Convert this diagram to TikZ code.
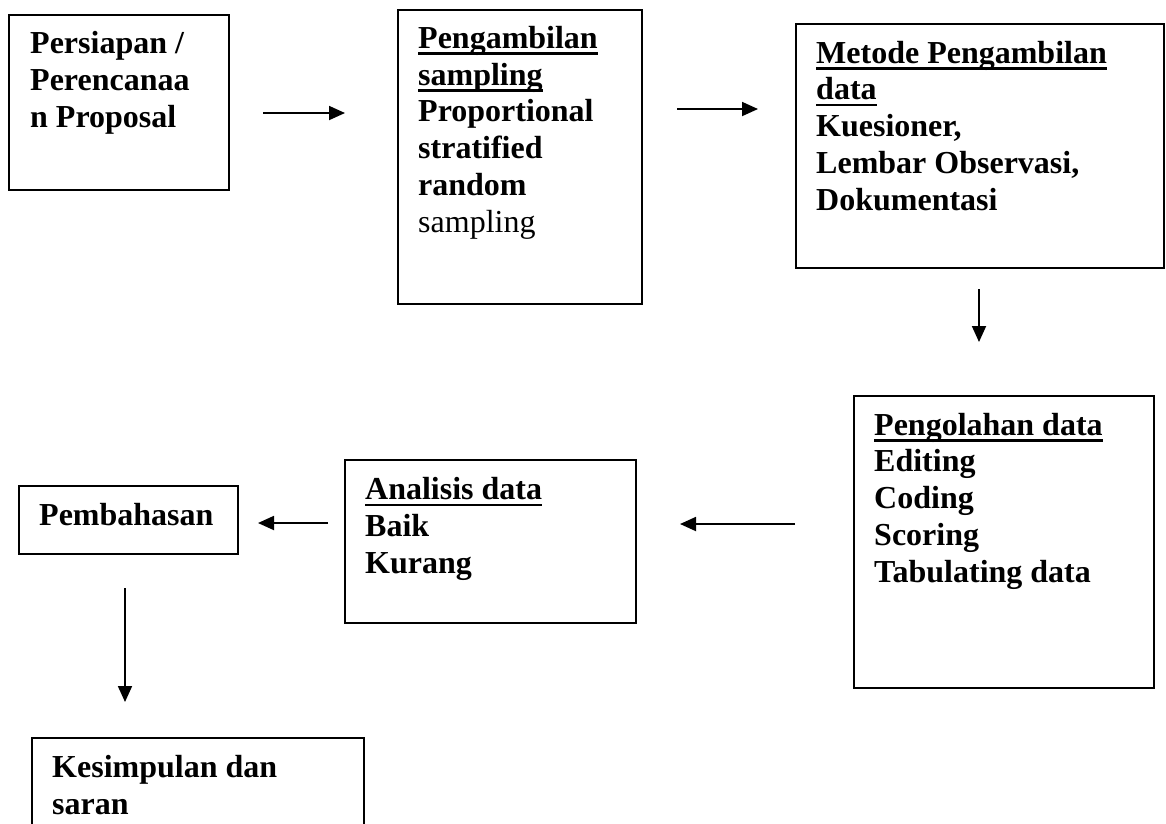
\documentclass[tikz,border=0pt]{standalone}
\usepackage{fontspec}
\setmainfont{Liberation Serif}
\usetikzlibrary{arrows.meta}
\newcommand\myul[1]{\setbox0\hbox{#1}\rlap{\rule[-6.5pt]{\wd0}{2.6pt}}\box0}
\begin{document}
\begin{tikzpicture}[x=1pt,y=-1pt,
  box/.style={draw, line width=1.8pt, inner sep=0pt, anchor=north west},
  txt/.style={anchor=base west, inner sep=0pt, align=left, font=\fontsize{32}{36.7}\selectfont\bfseries},
  arr/.style={-{Triangle[length=16pt,width=14pt]}, line width=1.8pt}]
\useasboundingbox (0,0) rectangle (1166,823);
\clip (0,0) rectangle (1166,823);
% boxes
\node[box, minimum width=220pt, minimum height=175pt] (b1) at (8,14) {};
\node[box, minimum width=244pt, minimum height=294pt] (b2) at (397,9) {};
\node[box, minimum width=368pt, minimum height=244pt] (b3) at (795,23) {};
\node[box, minimum width=300pt, minimum height=292pt] (b4) at (853,395) {};
\node[box, minimum width=291pt, minimum height=163pt] (b5) at (344,459) {};
\node[box, minimum width=219pt, minimum height=68pt] (b6) at (18,485) {};
\node[box, minimum width=332pt, minimum height=160pt] (b7) at (31,737) {};
% texts (anchor = baseline of last line)
\node[txt] (t1) at (30,127) {Persiapan /\\Perencanaa\\n Proposal};
\node[txt] (t2) at (418,232) {\myul{Pengambilan}\\\myul{sampling}\\Proportional\\stratified\\random\\{\mdseries sampling}};
\node[txt] (t3) at (816,210) {\myul{Metode Pengambilan}\\\myul{data}\\Kuesioner,\\Lembar Observasi,\\Dokumentasi};
\node[txt] (t4) at (874,582) {\myul{Pengolahan data}\\Editing\\Coding\\Scoring\\Tabulating data};
\node[txt] (t5) at (365,573) {\myul{Analisis data}\\Baik\\Kurang};
\node[txt] (t6) at (39,525) {Pembahasan};
\node[txt] (t7) at (52,814) {Kesimpulan dan\\saran};
% arrow ends
\coordinate (a1s) at (263,113); \coordinate (a1e) at (345,113);
\coordinate (a2s) at (677,109); \coordinate (a2e) at (758,109);
\coordinate (a3s) at (979,289); \coordinate (a3e) at (979,342);
\coordinate (a4s) at (795,524); \coordinate (a4e) at (680,524);
\coordinate (a5s) at (328,523); \coordinate (a5e) at (258,523);
\coordinate (a6s) at (125,588); \coordinate (a6e) at (125,702);
\draw[arr] (a1s) -- (a1e);
\draw[arr] (a2s) -- (a2e);
\draw[arr] (a3s) -- (a3e);
\draw[arr] (a4s) -- (a4e);
\draw[arr] (a5s) -- (a5e);
\draw[arr] (a6s) -- (a6e);
\end{tikzpicture}
\end{document}
